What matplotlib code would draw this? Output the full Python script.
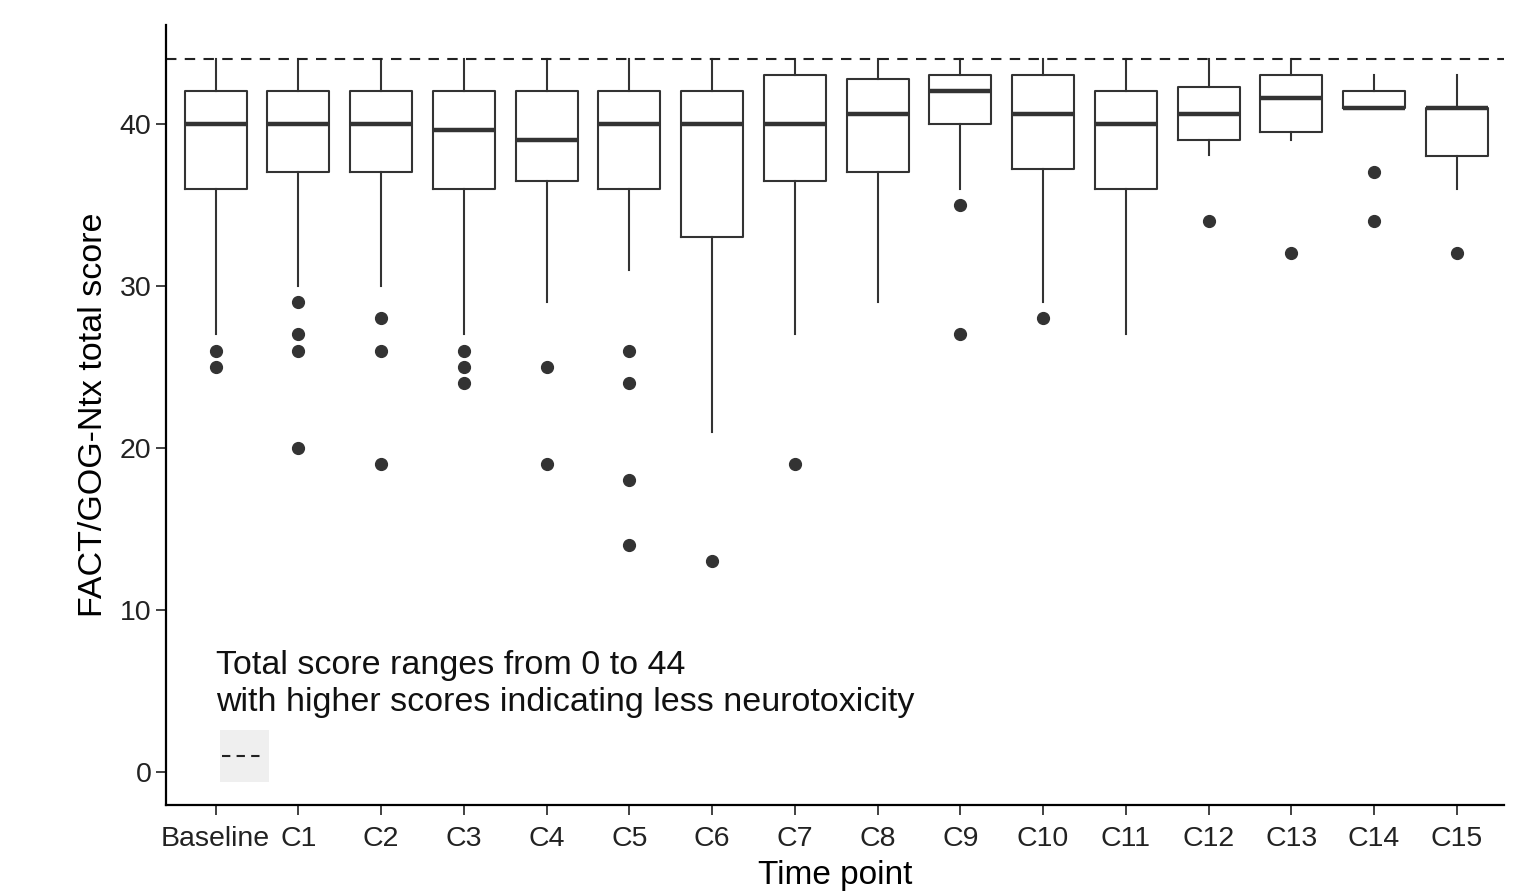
import matplotlib
matplotlib.use("Agg")
import matplotlib.pyplot as plt
from matplotlib.patches import Rectangle

# --- data ---
labels  = ["Baseline", "C1", "C2", "C3", "C4", "C5", "C6", "C7",
           "C8", "C9", "C10", "C11", "C12", "C13", "C14", "C15"]
whislo  = [27, 30, 30, 27, 29, 31, 21, 27, 29, 36, 29, 27, 38.1, 39, 41, 36]
q1      = [36, 37, 37, 36, 36.5, 36, 33, 36.5, 37, 40, 37.2, 36, 39, 39.5, 41, 38]
med     = [40, 40, 40, 39.6, 39, 40, 40, 40, 40.6, 42, 40.6, 40, 40.6, 41.6, 41, 41]
q3      = [42, 42, 42, 42, 42, 42, 42, 43, 42.75, 43, 43, 42, 42.3, 43, 42, 41]
whishi  = [44, 44, 44, 44, 44, 44, 44, 44, 44, 44, 44, 44, 44, 44, 43, 43]
fliers  = [[26, 25], [29, 27, 26, 20], [28, 26, 19], [26, 25, 24], [25, 19],
           [26, 24, 18, 14], [13], [19], [], [35, 27], [28], [], [34], [32],
           [37, 34], [32]]
max_score = 44

note = "Total score ranges from 0 to 44\nwith higher scores indicating less neurotoxicity"

plt.rcParams["font.family"] = ["Liberation Sans", "DejaVu Sans"]

fig = plt.figure(figsize=(15.34, 8.92), dpi=100)
ax = fig.add_axes([0.1082, 0.0975, 0.8722, 0.8745])

stats = [dict(label=l, whislo=a, q1=b, med=c, q3=d, whishi=e, fliers=f)
         for l, a, b, c, d, e, f in zip(labels, whislo, q1, med, q3, whishi, fliers)]

dark = "#333333"
ax.bxp(stats, positions=range(len(labels)), widths=0.75, showcaps=False,
       patch_artist=False,
       boxprops=dict(color=dark, linewidth=1.5),
       whiskerprops=dict(color=dark, linewidth=1.5),
       medianprops=dict(color=dark, linewidth=3.2),
       flierprops=dict(marker="o", markerfacecolor=dark, markeredgecolor=dark,
                       markersize=8.5))

ax.axhline(max_score, color="#222222", linestyle=(0, (5, 4)), linewidth=1.5)

# legend-like note
ax.text(0.0, 5.45, note, ha="left", va="center", fontsize=24.5,
        color="#111111", linespacing=1.25)
ax.add_patch(Rectangle((0.05, -0.6), 0.6, 3.2, facecolor="#EBEBEB",
                       edgecolor="none", alpha=0.8))
ax.plot([0.08, 0.6], [1.0, 1.0], color="#222222", linestyle=(0, (4, 3)),
        linewidth=1.5)

ax.set_xlim(-0.6, len(labels) - 0.43)
ax.set_ylim(-2.04, 46.1)
ax.set_yticks([0, 10, 20, 30, 40])
ax.set_xticks(range(len(labels)))
ax.set_xticklabels(labels)

for s in ["top", "right"]:
    ax.spines[s].set_visible(False)
for s in ["left", "bottom"]:
    ax.spines[s].set_linewidth(1.6)
    ax.spines[s].set_color("black")

ax.tick_params(axis="both", length=7, width=1.3, color="#333333",
               labelsize=20.5, labelcolor="#222222")
ax.tick_params(axis="x", pad=8)
ax.set_xlabel("Time point", fontsize=24, color="black", labelpad=6)
ax.set_ylabel("FACT/GOG-Ntx total score", fontsize=24.5, color="black", labelpad=8)

fig.savefig("out.png", dpi=100)
